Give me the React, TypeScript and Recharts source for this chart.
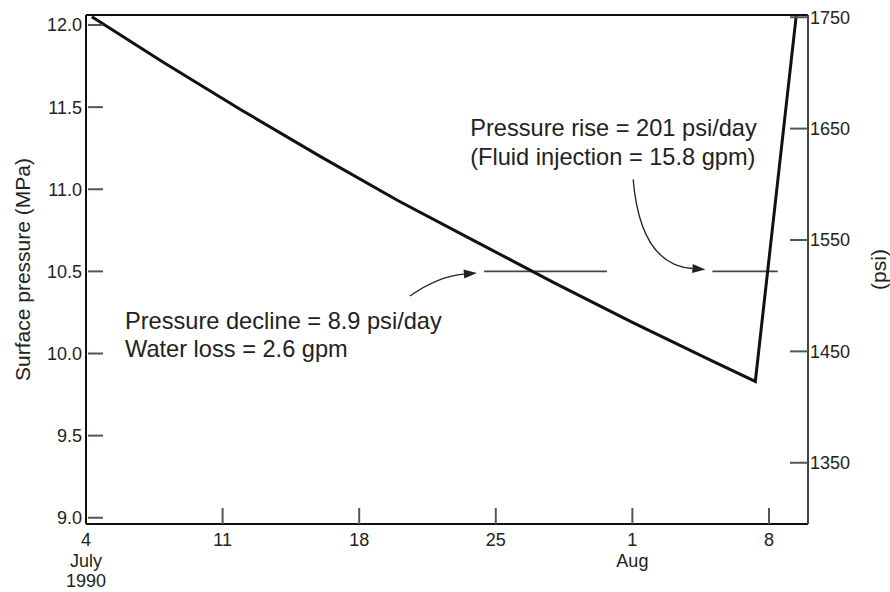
import React from 'react';
import {
  LineChart,
  Line,
  XAxis,
  YAxis,
  ReferenceLine,
  ReferenceDot,
} from 'recharts';

// days after 4 July 1990, surface pressure in MPa
const days = [0.3, 4, 8, 12, 16, 20, 24, 28, 32, 34.3, 36.4];
const pressureMPa = [12.05, 11.77, 11.48, 11.2, 10.93, 10.68, 10.43, 10.19, 9.96, 9.83, 12.06];

const dayTicks = [0, 7, 14, 21, 28, 35];
const dayLabels = [['4', 'July', '1990'], ['11'], ['18'], ['25'], ['1', 'Aug'], ['8']];
const mpaTicks = [9.0, 9.5, 10.0, 10.5, 11.0, 11.5, 12.0];
const psiTicks = [1350, 1450, 1550, 1650, 1750];
const mpaTop = 12.061;

// short level marks at 10.5 MPa
const levelFrom = [20.4, 32.1];
const levelTo = [26.7, 35.45];
const levelMPa = 10.5;

// arrows: tail and tip in (day, MPa)
const arrowTail = [[16.6, 10.35], [28.04, 11.06]];
const arrowTip = [[20.03, 10.49], [31.74, 10.512]];
const arrowBend = [[0.42, 0.86], [0.1, 0.95]];

const noteAt = [[19.69, 11.324], [2.0, 10.15]];
const noteLines = [
  ['Pressure rise = 201 psi/day', '(Fluid injection = 15.8 gpm)'],
  ['Pressure decline = 8.9 psi/day', 'Water loss = 2.6 gpm'],
];

const data = days.map((d, i) => ({ day: d, mpa: pressureMPa[i] }));

const FONT = '"Liberation Sans", Arial, Helvetica, sans-serif';
const TEXT = '#222';
const TICK = '#555';

const BottomTick = (props: any) => {
  const { x, y, payload } = props;
  const idx = dayTicks.indexOf(payload.value);
  const lines = dayLabels[idx] || [];
  return (
    <g>
      {idx > 0 && <line x1={x} x2={x} y1={y} y2={y - 16} stroke={TICK} strokeWidth={2} />}
      {lines.map((t, i) => (
        <text key={i} x={x} y={y + 22 + i * 20.5} textAnchor="middle" fontSize={18} fill={TEXT} fontFamily={FONT}>
          {t}
        </text>
      ))}
    </g>
  );
};

const LeftTick = (props: any) => {
  const { x, y, payload } = props;
  return (
    <g>
      <line x1={x + 2} x2={x + 17} y1={y} y2={y} stroke={TICK} strokeWidth={2} />
      <text x={x - 4} y={y} dy="0.36em" textAnchor="end" fontSize={18} fill={TEXT} fontFamily={FONT}>
        {payload.value.toFixed(1)}
      </text>
    </g>
  );
};

const RightTick = (props: any) => {
  const { x, y, payload } = props;
  return (
    <g>
      <line x1={x - 18} x2={x} y1={y} y2={y} stroke={TICK} strokeWidth={2} />
      <text x={x + 2} y={y} dy="0.36em" textAnchor="start" fontSize={18} fill={TEXT} fontFamily={FONT}>
        {payload.value}
      </text>
    </g>
  );
};

const axisTitle = (text: string, side: 'left' | 'right') => (props: any) => {
  const vb = props.viewBox || {};
  const cx = side === 'left' ? vb.x + vb.width - 64 : vb.x + 70;
  const cy = vb.y + vb.height / 2;
  return (
    <text
      x={cx}
      y={cy}
      transform={`rotate(-90, ${cx}, ${cy})`}
      textAnchor="middle"
      dominantBaseline="central"
      fontSize={21}
      fill={TEXT}
      fontFamily={FONT}
    >
      {text}
    </text>
  );
};

const arrowShape = (bend: number[]) => (props: any) => {
  const { x1, y1, x2, y2 } = props;
  const cx = x1 + (x2 - x1) * bend[0];
  const cy = y1 + (y2 - y1) * bend[1];
  const ang = Math.atan2(y2 - cy, x2 - cx);
  const L = 13;
  const W = 4.5;
  const bx = x2 - L * Math.cos(ang);
  const by = y2 - L * Math.sin(ang);
  const px = -Math.sin(ang) * W;
  const py = Math.cos(ang) * W;
  return (
    <g>
      <path d={`M${x1},${y1} Q${cx},${cy} ${bx},${by}`} fill="none" stroke="#222" strokeWidth={1.3} />
      <polygon points={`${x2},${y2} ${bx + px},${by + py} ${bx - px},${by - py}`} fill="#222" />
    </g>
  );
};

const noteShape = (lines: string[]) => (props: any) => {
  const { cx, cy } = props;
  return (
    <text x={cx} y={cy} fontSize={23.6} fill={TEXT} fontFamily={FONT}>
      {lines.map((t, i) => (
        <tspan key={i} x={cx} dy={i === 0 ? 0 : 28.5}>
          {t}
        </tspan>
      ))}
    </text>
  );
};

export default function App() {
  return (
    <div style={{ position: 'absolute', left: 0, top: 0, background: '#fff' }}>
      <LineChart width={890} height={592} data={data} margin={{ top: 15, right: 22, bottom: 8, left: 26 }}>
        <XAxis
          dataKey="day"
          type="number"
          domain={[0, 37]}
          ticks={dayTicks}
          interval={0}
          height={60}
          tickSize={0}
          tickMargin={0}
          tickLine={false}
          tick={<BottomTick />}
          axisLine={{ stroke: '#111', strokeWidth: 2 }}
          allowDataOverflow
        />
        <YAxis
          yAxisId={0}
          type="number"
          domain={[8.962, mpaTop]}
          ticks={mpaTicks}
          interval={0}
          width={60}
          tickSize={0}
          tickMargin={0}
          tickLine={false}
          tick={<LeftTick />}
          axisLine={{ stroke: '#111', strokeWidth: 2 }}
          allowDataOverflow
          label={{ value: 'Surface pressure (MPa)', content: axisTitle('Surface pressure (MPa)', 'left') }}
        />
        <YAxis
          yAxisId="psi"
          orientation="right"
          type="number"
          domain={[1295, 1752]}
          ticks={psiTicks}
          interval={0}
          width={60}
          tickSize={0}
          tickMargin={0}
          tickLine={false}
          tick={<RightTick />}
          axisLine={{ stroke: '#444', strokeWidth: 2 }}
          allowDataOverflow
          label={{ value: '(psi)', content: axisTitle('(psi)', 'right') }}
        />
        <ReferenceLine y={mpaTop} stroke="#111" strokeWidth={2} ifOverflow="visible" />
        {levelFrom.map((f, i) => (
          <ReferenceLine
            key={`lvl${i}`}
            segment={[
              { x: f, y: levelMPa },
              { x: levelTo[i], y: levelMPa },
            ]}
            stroke="#444"
            strokeWidth={1.6}
          />
        ))}
        {arrowTail.map((t, i) => (
          <ReferenceLine
            key={`arr${i}`}
            segment={[
              { x: t[0], y: t[1] },
              { x: arrowTip[i][0], y: arrowTip[i][1] },
            ]}
            shape={arrowShape(arrowBend[i])}
          />
        ))}
        {noteAt.map((p, i) => (
          <ReferenceDot key={`note${i}`} x={p[0]} y={p[1]} r={0} shape={noteShape(noteLines[i])} />
        ))}
        <Line
          type="linear"
          dataKey="mpa"
          stroke="#111"
          strokeWidth={3}
          dot={false}
          isAnimationActive={false}
        />
      </LineChart>
    </div>
  );
}
